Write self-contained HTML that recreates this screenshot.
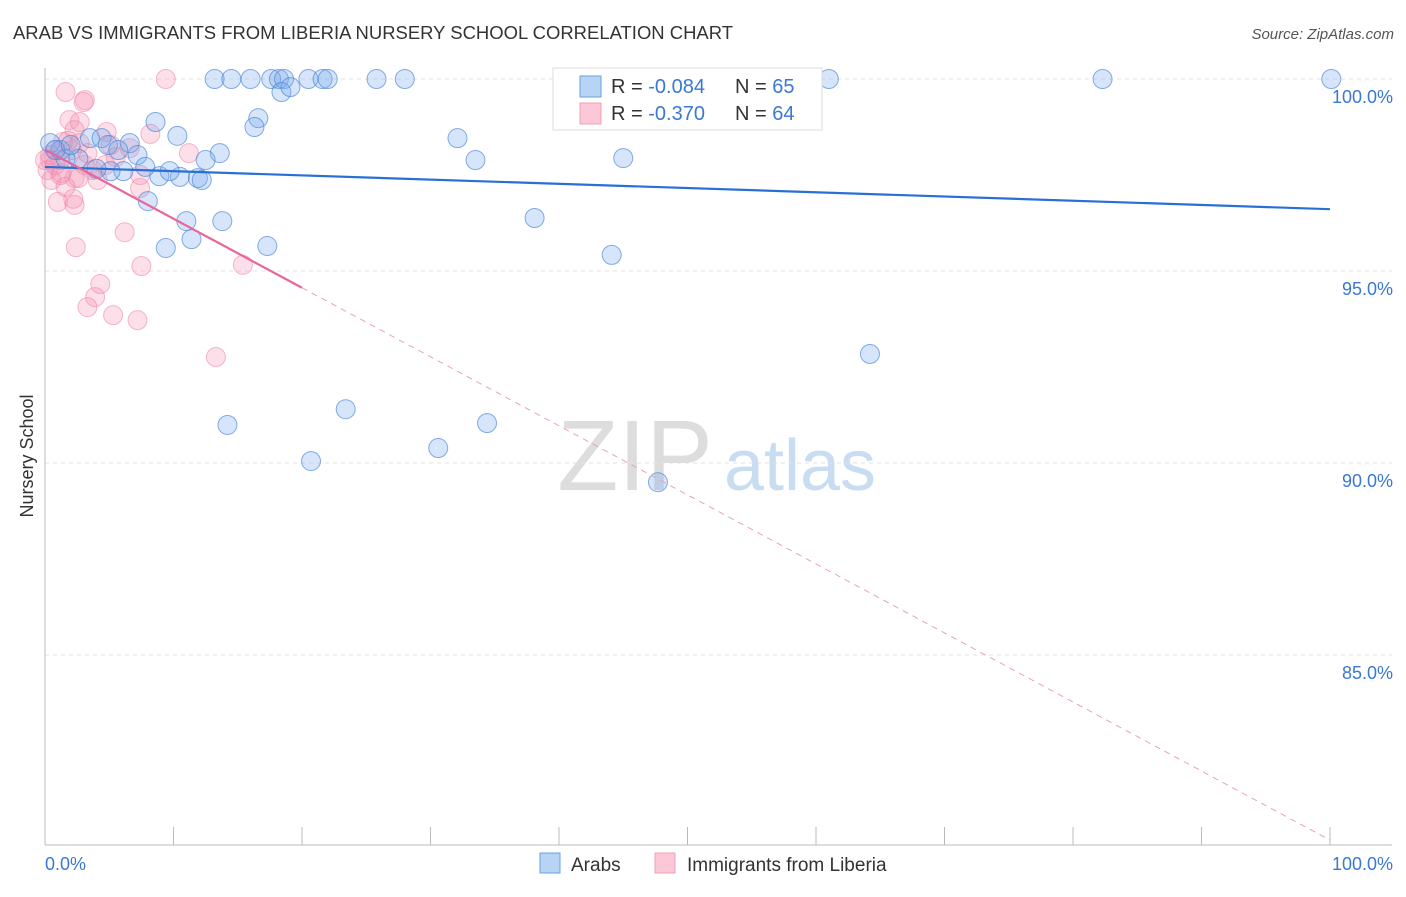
<!DOCTYPE html>
<html><head><meta charset="utf-8">
<style>
body{margin:0;background:#fff;font-family:"Liberation Sans",sans-serif;}
svg text{font-family:"Liberation Sans",sans-serif;}
</style></head>
<body>
<svg id="chart" width="1406" height="892" xmlns="http://www.w3.org/2000/svg">
<text x="13" y="39" font-size="18" fill="#333" textLength="720" lengthAdjust="spacingAndGlyphs">ARAB VS IMMIGRANTS FROM LIBERIA NURSERY SCHOOL CORRELATION CHART</text>
<text x="1394" y="39" font-size="15" fill="#555" text-anchor="end" font-style="italic">Source: ZipAtlas.com</text>
<text transform="translate(33,456) rotate(-90)" font-size="18" fill="#333" text-anchor="middle">Nursery School</text>
<g>
<text x="635" y="490" font-size="100" fill="#ddd" font-family="Liberation Serif" text-anchor="middle">ZIP</text>
<text x="800" y="490" font-size="72" fill="#c8dcf2" text-anchor="middle">atlas</text>
</g>
<g id="grid"></g>
<g id="axes"></g>
<g id="pts"></g>
<g id="lines"></g>
<g>
<rect x="553" y="68" width="269" height="62" fill="#fff" stroke="#ddd"/>
<rect x="580" y="76" width="21" height="21" fill="#b8d4f5" stroke="#6aa0e0"/>
<rect x="580" y="103" width="21" height="21" fill="#fcc8d8" stroke="#f0a0b8"/>
<text x="611" y="93" font-size="20" fill="#333">R = <tspan fill="#3a78d4">-0.084</tspan></text>
<text x="735" y="93" font-size="20" fill="#333">N = <tspan fill="#3a78d4">65</tspan></text>
<text x="611" y="120" font-size="20" fill="#333">R = <tspan fill="#3a78d4"> -0.370</tspan></text>
<text x="735" y="120" font-size="20" fill="#333">N = <tspan fill="#3a78d4">64</tspan></text>
</g>
<g>
<rect x="540" y="853" width="20" height="20" fill="#b8d4f5" stroke="#6aa0e0"/>
<text x="571" y="871" font-size="19" fill="#333">Arabs</text>
<rect x="655" y="853" width="20" height="20" fill="#fcc8d8" stroke="#f0a0b8"/>
<text x="687" y="871" font-size="19" fill="#333">Immigrants from Liberia</text>
</g>
</svg>
<script>
const yTicks=[100,95,90,85];
const yTickLabels=["100.0%","95.0%","90.0%","85.0%"];
const xTickLabels=["0.0%","100.0%"];
const arabsX=[13.2,14.5,16.0,17.6,18.2,18.6,20.5,21.6,22.0,25.8,28.0,47.1,61.0,82.3,100.1,18.4,19.1,16.6,16.3,8.6,10.3,32.1,33.5,45.0,13.6,12.5,6.6,0.4,1.2,3.5,4.4,4.9,5.7,7.2,8.9,10.5,11.9,12.2,7.8,9.7,6.1,5.1,4.0,2.6,8.0,11.0,13.8,38.1,11.4,9.4,17.3,44.1,64.2,23.4,14.2,34.4,30.6,20.7,47.7,1.6,0.8,2.0];
const arabsY=[100,100,100,100,100,100,100,100,100,100,100,100,100,100,100,99.66,99.79,98.98,98.75,98.88,98.52,98.46,97.89,97.94,98.07,97.89,98.33,98.33,98.15,98.46,98.46,98.28,98.15,98.02,97.47,97.45,97.42,97.37,97.71,97.6,97.6,97.6,97.66,97.92,96.82,96.3,96.3,96.38,95.83,95.6,95.65,95.42,92.84,91.4,90.99,91.04,90.39,90.05,89.5,97.92,98.15,98.28];
const libX=[9.4,1.6,3.1,3.0,1.9,2.7,2.3,4.8,8.2,11.2,5.5,1.4,0.8,0.4,0.2,0.5,1.2,2.3,4.1,7.4,3.7,4.7,3.1,6.6,5.1,2.1,7.4,1.0,2.3,2.2,6.2,2.4,7.5,15.4,4.3,3.9,3.3,5.3,7.2,13.3,0,0.4,1.2,0.8,1.8,2.7,1.3,3.3,1.6,2.6];
const libY=[100,99.66,99.45,99.4,98.93,98.88,98.67,98.62,98.57,98.07,97.97,98.36,98.15,97.89,97.63,97.37,97.5,97.42,97.37,97.5,97.63,97.76,97.76,98.2,98.28,98.15,97.16,96.8,96.72,96.88,96.01,95.62,95.13,95.16,94.66,94.32,94.06,93.85,93.72,92.76,97.89,98.02,97.89,97.76,98.39,98.33,97.55,98.07,97.19,97.42];
const arabsTrend=[97.71,96.61];
const libTrendStart=98.16, libTrendSolidEndX=20, libTrendEnd=80.18;
const NS="http://www.w3.org/2000/svg";
const X0=45,X1=1330;
function sx(v){return X0+(X1-X0)*v/100;}
function sy(v){return 79+(100-v)*38.4;}
function mk(tag,attrs,parent){const e=document.createElementNS(NS,tag);for(const k in attrs)e.setAttribute(k,attrs[k]);parent.appendChild(e);return e;}
const grid=document.getElementById('grid'),axes=document.getElementById('axes'),pts=document.getElementById('pts'),lines=document.getElementById('lines');
yTicks.forEach((t,i)=>{
 const l=mk('line',{x1:X0,x2:1392,y1:sy(t),y2:sy(t),stroke:'#e2e2e2','stroke-dasharray':'4,4'},grid);
 
 
 const tx=mk('text',{x:1393,y:sy(t)+24,'font-size':18,fill:'#3a78d4','text-anchor':'end'},axes);tx.textContent=yTickLabels[i];
 
 
});
const ya=mk('line',{x1:X0,x2:X0,y1:68,y2:845,stroke:'#bbb'},axes);


const xa=mk('line',{x1:X0,x2:1392,y1:845,y2:845,stroke:'#bbb'},axes);


for(let i=0;i<=10;i++){const t=mk('line',{x1:sx(i*10),x2:sx(i*10),y1:827,y2:845,stroke:'#bbb'},axes);
 
 }
const xl0=mk('text',{x:45,y:870,'font-size':18,fill:'#3a78d4'},axes);xl0.textContent=xTickLabels[0];


const xl1=mk('text',{x:1393,y:870,'font-size':18,fill:'#3a78d4','text-anchor':'end'},axes);xl1.textContent=xTickLabels[1];


libX.forEach((x,i)=>{const c=mk('circle',{cx:sx(x),cy:sy(libY[i]),r:9.5,fill:'rgba(244,150,180,0.3)',stroke:'rgba(236,130,165,0.55)'},pts);
 
 });
arabsX.forEach((x,i)=>{const c=mk('circle',{cx:sx(x),cy:sy(arabsY[i]),r:9.5,fill:'rgba(120,170,235,0.3)',stroke:'rgba(70,130,215,0.65)'},pts);
 
 });
const bl=mk('line',{x1:sx(0),y1:sy(arabsTrend[0]),x2:sx(100),y2:sy(arabsTrend[1]),stroke:'#2a6fd6','stroke-width':2.2},lines);


const slope=(libTrendEnd-libTrendStart)/100, midY=libTrendStart+slope*libTrendSolidEndX;
const pl=mk('line',{x1:sx(0),y1:sy(libTrendStart),x2:sx(libTrendSolidEndX),y2:sy(midY),stroke:'#e8669a','stroke-width':2.2},lines);


const pd=mk('line',{x1:sx(libTrendSolidEndX),y1:sy(midY),x2:sx(100),y2:sy(libTrendEnd),stroke:'#eaa0bc','stroke-width':1,'stroke-dasharray':'6,5'},lines);


</script>
</body></html>
